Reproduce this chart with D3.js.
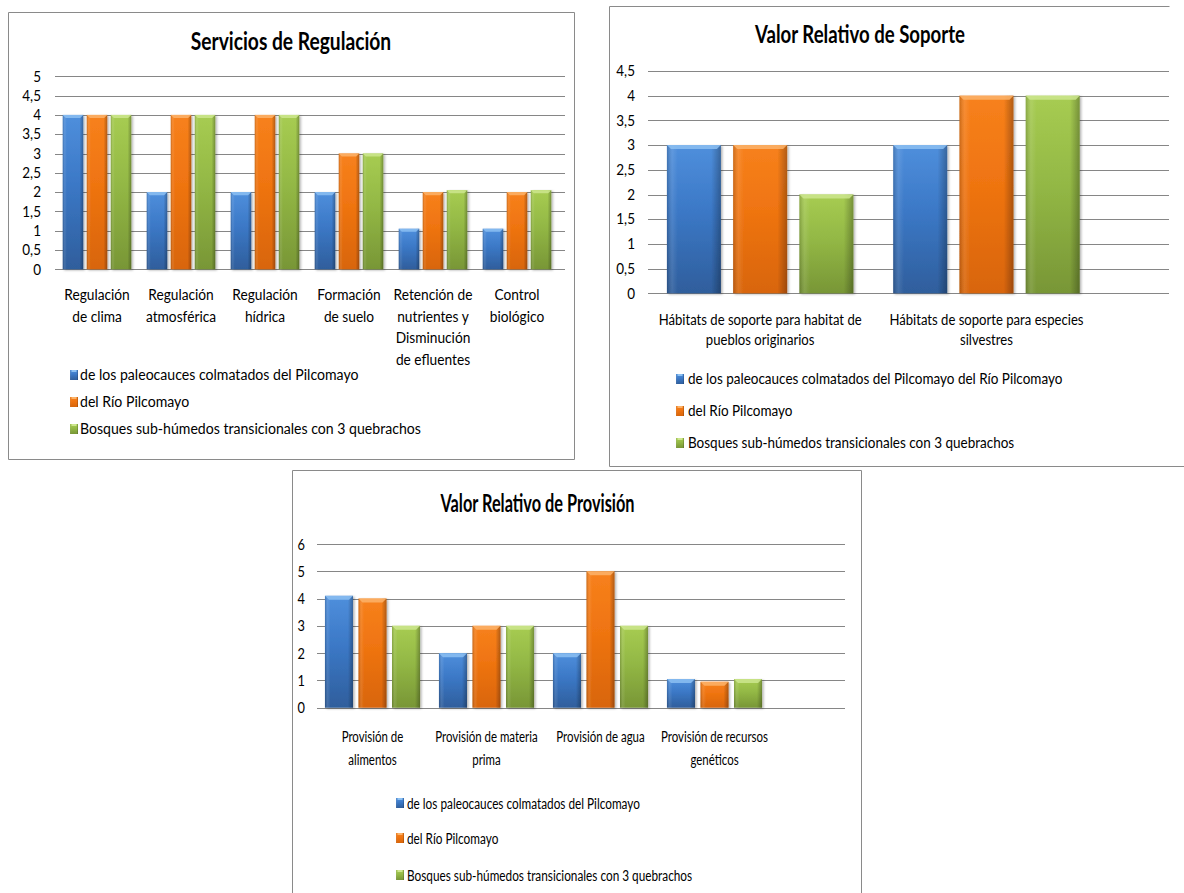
<!DOCTYPE html>
<html>
<head>
<meta charset="utf-8">
<script src="https://cdn.jsdelivr.net/npm/d3@7"></script>
<style>
  html, body { margin: 0; padding: 0; background: #fff; }
  svg { display: block; }
  text { font-family: "Lato", "Noto Sans", sans-serif; fill: #000; }
</style>
</head>
<body>
<svg id="board" width="1184" height="893"></svg>
<script>
// ---- Series names (shared legend) ----
const seriesKeys = ["paleo", "rio", "bosque"];
const legendRegulacion = [
  "de los paleocauces colmatados del Pilcomayo",
  "del Río Pilcomayo",
  "Bosques sub-húmedos transicionales con 3 quebrachos"
];
const legendSoporte = [
  "de los paleocauces colmatados  del Pilcomayo del Río Pilcomayo",
  "del Río Pilcomayo",
  "Bosques sub-húmedos transicionales con 3 quebrachos"
];
const legendProvision = [
  "de los paleocauces colmatados  del Pilcomayo",
  "del Río Pilcomayo",
  "Bosques sub-húmedos transicionales con 3 quebrachos"
];

// ---- Servicios de Regulación ----
const regCategories = [
  ["Regulación", "de clima"],
  ["Regulación", "atmosférica"],
  ["Regulación", "hídrica"],
  ["Formación", "de suelo"],
  ["Retención de", "nutrientes y", "Disminución", "de efluentes"],
  ["Control", "biológico"]
];
const regPaleo  = [4, 2, 2, 2, 1.05, 1.05];
const regRio    = [4, 4, 4, 3, 2, 2];
const regBosque = [4, 4, 4, 3, 2.05, 2.05];
const regTicks  = [0, 0.5, 1, 1.5, 2, 2.5, 3, 3.5, 4, 4.5, 5];

// ---- Valor Relativo de Soporte ----
const sopCategories = [
  ["Hábitats de soporte para habitat de", "pueblos originarios"],
  ["Hábitats de soporte para especies", "silvestres"]
];
const sopPaleo  = [3, 3];
const sopRio    = [3, 4];
const sopBosque = [2, 4];
const sopTicks  = [0, 0.5, 1, 1.5, 2, 2.5, 3, 3.5, 4, 4.5];

// ---- Valor Relativo de Provisión ----
const provCategories = [
  ["Provisión de", "alimentos"],
  ["Provisión de materia", "prima"],
  ["Provisión de agua"],
  ["Provisión de recursos", "genéticos"]
];
const provPaleo  = [4.1, 2, 2, 1.05];
const provRio    = [4, 3, 5, 0.95];
const provBosque = [3, 3, 3, 1.05];
const provTicks  = [0, 1, 2, 3, 4, 5, 6];

// Spanish number formatting (decimal comma)
const esLocale = d3.formatLocale({ decimal: ",", thousands: ".", grouping: [3], currency: ["", " €"] });
const fmt = esLocale.format("~g");

const palette = {
  paleo:  { top: "#4f8fdc", mid: "#3b78c6", bot: "#2f5e9c", cap: "#8cc0f2" },
  rio:    { top: "#f7811c", mid: "#ef7411", bot: "#d8650a", cap: "#fbb36a" },
  bosque: { top: "#a7cc52", mid: "#93b845", bot: "#789636", cap: "#cde68e" }
};

const svg = d3.select("#board");
const defs = svg.append("defs");

seriesKeys.forEach(k => {
  const c = palette[k];
  const g = defs.append("linearGradient").attr("id", "fill-" + k)
    .attr("x1", 0).attr("y1", 0).attr("x2", 0).attr("y2", 1);
  g.append("stop").attr("offset", "0%").attr("stop-color", c.top);
  g.append("stop").attr("offset", "45%").attr("stop-color", c.mid);
  g.append("stop").attr("offset", "100%").attr("stop-color", c.bot);
});
const side = defs.append("linearGradient").attr("id", "bevel-side")
  .attr("x1", 0).attr("y1", 0).attr("x2", 1).attr("y2", 0);
side.append("stop").attr("offset", "0%").attr("stop-color", "#000").attr("stop-opacity", 0.18);
side.append("stop").attr("offset", "10%").attr("stop-color", "#fff").attr("stop-opacity", 0.10);
side.append("stop").attr("offset", "20%").attr("stop-color", "#fff").attr("stop-opacity", 0);
side.append("stop").attr("offset", "82%").attr("stop-color", "#000").attr("stop-opacity", 0);
side.append("stop").attr("offset", "100%").attr("stop-color", "#000").attr("stop-opacity", 0.28);

const shadow = defs.append("filter").attr("id", "bar-shadow")
  .attr("x", "-20%").attr("y", "-5%").attr("width", "150%").attr("height", "115%");
shadow.append("feDropShadow").attr("dx", 1.5).attr("dy", 1).attr("stdDeviation", 1.2)
  .attr("flood-color", "#000").attr("flood-opacity", 0.3);

// place a text at (x, y) with a horizontal condensing factor
function place(x, y, sx) {
  return `translate(${x},${y}) scale(${sx},1)`;
}

function drawChart(cfg) {
  const g = svg.append("g");

  // frame
  g.append("path")
    .attr("d", cfg.frame)
    .attr("fill", "none").attr("stroke", "#8a8a8a").attr("stroke-width", 1);

  // title
  g.append("text")
    .attr("transform", place(cfg.titleX, cfg.titleY, cfg.titleScale))
    .attr("text-anchor", "middle")
    .style("font-weight", "bold").style("font-size", cfg.titleSize + "px")
    .text(cfg.title);

  const y = d3.scaleLinear()
    .domain([0, d3.max(cfg.ticks)])
    .range([cfg.baseY, cfg.topY]);

  // gridlines and value labels
  g.append("g").selectAll("line").data(cfg.ticks).join("line")
    .attr("x1", cfg.gridX0).attr("x2", cfg.gridX1)
    .attr("y1", d => Math.round(y(d)) + 0.5).attr("y2", d => Math.round(y(d)) + 0.5)
    .attr("stroke", "#868686").attr("stroke-width", 1);

  g.append("g").selectAll("text").data(cfg.ticks).join("text")
    .attr("transform", d => place(cfg.tickX, y(d), cfg.tickScale))
    .attr("dy", "0.35em").attr("text-anchor", "end")
    .style("font-size", cfg.fontSize + "px")
    .text(d => fmt(d));

  const idx = d3.range(cfg.categories.length);
  const x0 = d3.scaleBand().domain(idx).range(cfg.catRange);
  const x1 = d3.scaleBand().domain(seriesKeys)
    .range([x0.bandwidth() * cfg.innerMargin, x0.bandwidth() * (1 - cfg.innerMargin)])
    .paddingInner(cfg.innerGap);

  const rows = idx.map(i => ({ i, vals: seriesKeys.map(k => ({ k, v: cfg.values[k][i] })) }));

  const groups = g.append("g").selectAll("g").data(rows).join("g")
    .attr("transform", d => `translate(${x0(d.i)},0)`);

  const bars = groups.selectAll("g").data(d => d.vals).join("g")
    .attr("filter", "url(#bar-shadow)");

  bars.append("rect")
    .attr("x", d => x1(d.k)).attr("width", x1.bandwidth())
    .attr("y", d => y(d.v)).attr("height", d => y(0) - y(d.v))
    .attr("fill", d => `url(#fill-${d.k})`);
  bars.append("rect")
    .attr("x", d => x1(d.k)).attr("width", x1.bandwidth())
    .attr("y", d => y(d.v)).attr("height", d => y(0) - y(d.v))
    .attr("fill", "url(#bevel-side)");
  // bevelled cap along the top edge
  bars.append("path")
    .attr("d", d => {
      const xa = x1(d.k), w = x1.bandwidth(), t = y(d.v), b = Math.min(4, w * 0.15);
      return `M${xa},${t}L${xa + w},${t}L${xa + w - b},${t + b}L${xa + b},${t + b}Z`;
    })
    .attr("fill", d => palette[d.k].cap).attr("opacity", 0.85);

  // category labels
  const cats = g.append("g").selectAll("text").data(idx).join("text")
    .attr("text-anchor", "middle")
    .attr("transform", i => place(x0(i) + x0.bandwidth() / 2, cfg.catY, cfg.catScale))
    .style("font-size", cfg.fontSize + "px");
  cats.selectAll("tspan").data(i => cfg.categories[i]).join("tspan")
    .attr("x", 0)
    .attr("dy", (d, j) => j === 0 ? 0 : cfg.catLine)
    .text(d => d);

  // legend
  const leg = g.append("g").selectAll("g").data(seriesKeys).join("g")
    .attr("transform", (k, j) => `translate(${cfg.legendX},${cfg.legendY[j]})`);
  leg.append("rect")
    .attr("x", 0).attr("y", -5).attr("width", 8).attr("height", 10)
    .attr("fill", k => `url(#fill-${k})`);
  leg.append("rect")
    .attr("x", 0).attr("y", -5).attr("width", 8).attr("height", 10)
    .attr("fill", "url(#bevel-side)");
  leg.append("rect")
    .attr("x", 1.5).attr("y", -5).attr("width", 5).attr("height", 2)
    .attr("fill", k => palette[k].cap);
  leg.append("text")
    .attr("transform", place(cfg.legendTextDx, 0, cfg.legendScale))
    .attr("dy", "0.35em")
    .style("font-size", cfg.legendSize + "px")
    .text((k, j) => cfg.legend[j]);
}

drawChart({
  title: "Servicios de Regulación",
  frame: "M8.5,12.5H574.5V459.5H8.5Z",
  titleX: 291, titleY: 50, titleSize: 24, titleScale: 0.8,
  ticks: regTicks, baseY: 269.3, topY: 76.3,
  gridX0: 55, gridX1: 565, tickX: 41, tickScale: 0.9,
  categories: regCategories,
  values: { paleo: regPaleo, rio: regRio, bosque: regBosque },
  catRange: [55, 559], innerMargin: 0.092, innerGap: 0.146,
  catY: 300, catLine: 21.7, fontSize: 15, catScale: 0.915,
  legend: legendRegulacion, legendX: 70, legendY: [375, 402, 429],
  legendSize: 15, legendScale: 0.94, legendTextDx: 10
});

drawChart({
  title: "Valor Relativo de Soporte",
  frame: "M1169.5,6.5H609.5V466.5H1184",
  titleX: 860, titleY: 43, titleSize: 24, titleScale: 0.775,
  ticks: sopTicks, baseY: 293.3, topY: 71,
  gridX0: 648, gridX1: 1169, tickX: 635, tickScale: 0.9,
  categories: sopCategories,
  values: { paleo: sopPaleo, rio: sopRio, bosque: sopBosque },
  catRange: [647, 1099.6], innerMargin: 0.088, innerGap: 0.185,
  catY: 325, catLine: 20.5, fontSize: 15, catScale: 0.874,
  legend: legendSoporte, legendX: 676, legendY: [379, 411, 443],
  legendSize: 15, legendScale: 0.9, legendTextDx: 12
});

drawChart({
  title: "Valor Relativo de Provisión",
  frame: "M292.5,900V470.5H861.5V900",
  titleX: 537.5, titleY: 512, titleSize: 24, titleScale: 0.68,
  ticks: provTicks, baseY: 707.7, topY: 544,
  gridX0: 317, gridX1: 845, tickX: 305, tickScale: 0.8,
  categories: provCategories,
  values: { paleo: provPaleo, rio: provRio, bosque: provBosque },
  catRange: [315.5, 771.5], innerMargin: 0.083, innerGap: 0.164,
  catY: 742, catLine: 23, fontSize: 16, catScale: 0.716,
  legend: legendProvision, legendX: 396, legendY: [803, 838, 875],
  legendSize: 16, legendScale: 0.737, legendTextDx: 11
});
</script>
</body>
</html>
